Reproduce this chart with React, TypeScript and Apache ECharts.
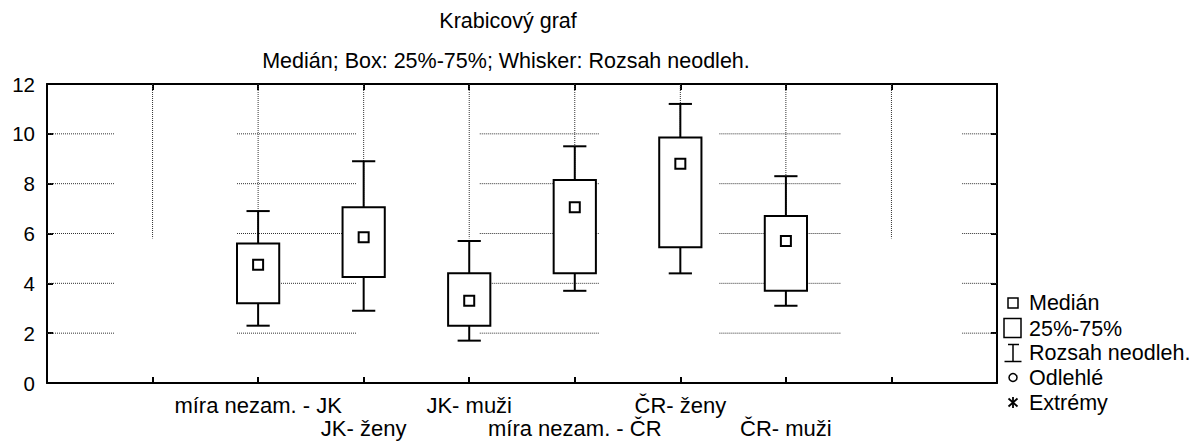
import React, { useEffect, useRef } from 'react';
import * as echarts from 'echarts';

const TITLE = 'Krabicový graf';
const SUBTITLE = 'Medián; Box: 25%-75%; Whisker: Rozsah neodleh.';

const CATEGORIES = ['míra nezam. - JK', 'JK- ženy', 'JK- muži', 'míra nezam. - ČR', 'ČR- ženy', 'ČR- muži'];
const WHISKER_LOW = [2.3, 2.9, 1.7, 3.7, 4.4, 3.1];
const Q1 = [3.2, 4.25, 2.3, 4.4, 5.45, 3.7];
const MEDIAN = [4.75, 5.85, 3.3, 7.05, 8.8, 5.7];
const Q3 = [5.6, 7.05, 4.4, 8.15, 9.85, 6.7];
const WHISKER_HIGH = [6.9, 8.9, 5.7, 9.5, 11.2, 8.3];

const LEGEND_LABELS = ['Medián', '25%-75%', 'Rozsah neodleh.', 'Odlehlé', 'Extrémy'];

const Y_MIN = 0;
const Y_MAX = 12;
const Y_STEP = 2;
const X_MIN = 0;
const X_MAX = 9;
const FIRST_CATEGORY_X = 2;

// Statistica-style broken grid pattern
const H_GRID_VALUES = [2, 4, 6, 8, 10];
const H_GRID_SEGMENTS = [[0, 0.644], [1.8, 2.935], [4.1, 5.235], [6.37, 7.517], [8.67, 9]];
const V_GRID_VALUES = [1, 2, 3, 4, 5, 6, 7, 8];
const V_GRID_BOTTOM = 5.8;

const FONT = '"Liberation Sans", Arial, Helvetica, sans-serif';

function buildOption() {
  const gridSegments: number[][] = [];
  H_GRID_VALUES.forEach((y) => {
    H_GRID_SEGMENTS.forEach(([a, b]) => gridSegments.push([a, y, b, y]));
  });
  V_GRID_VALUES.forEach((x) => gridSegments.push([x, Y_MAX, x, V_GRID_BOTTOM]));

  const boxData = CATEGORIES.map((_, i) => [
    i + FIRST_CATEGORY_X,
    WHISKER_LOW[i],
    Q1[i],
    MEDIAN[i],
    Q3[i],
    WHISKER_HIGH[i],
  ]);

  const axisLine = { onZero: false, lineStyle: { color: '#000', width: 2 } };
  const axisTick = { inside: true, length: 6, lineStyle: { color: '#000', width: 2 } };

  const black = '#000';
  const legendX = 1013;
  const legendTextX = 1029;
  const rowY = [303, 328.5, 352.5, 377.5, 402.5];

  const legendGraphics: any[] = [
    {
      type: 'rect',
      shape: { x: legendX - 5, y: rowY[0] - 5, width: 10, height: 10 },
      style: { fill: '#fff', stroke: black, lineWidth: 1.5 },
    },
    {
      type: 'rect',
      shape: { x: legendX - 9, y: rowY[1] - 10, width: 17, height: 19 },
      style: { fill: '#fff', stroke: black, lineWidth: 1.5 },
    },
    {
      type: 'line',
      shape: { x1: legendX - 5, y1: rowY[2] - 8, x2: legendX + 6, y2: rowY[2] - 8 },
      style: { stroke: black, lineWidth: 1.5 },
    },
    {
      type: 'line',
      shape: { x1: legendX, y1: rowY[2] - 8, x2: legendX, y2: rowY[2] + 9 },
      style: { stroke: black, lineWidth: 1.5 },
    },
    {
      type: 'line',
      shape: { x1: legendX - 8.5, y1: rowY[2] + 9, x2: legendX + 8.5, y2: rowY[2] + 9 },
      style: { stroke: black, lineWidth: 1.5 },
    },
    {
      type: 'circle',
      shape: { cx: legendX, cy: rowY[3], r: 4 },
      style: { fill: '#fff', stroke: black, lineWidth: 1.5 },
    },
    {
      type: 'line',
      shape: { x1: legendX, y1: rowY[4] - 5.5, x2: legendX, y2: rowY[4] + 5.5 },
      style: { stroke: black, lineWidth: 1.8 },
    },
    {
      type: 'line',
      shape: { x1: legendX - 4.5, y1: rowY[4] - 4, x2: legendX + 4.5, y2: rowY[4] + 4 },
      style: { stroke: black, lineWidth: 1.8 },
    },
    {
      type: 'line',
      shape: { x1: legendX - 4.5, y1: rowY[4] + 4, x2: legendX + 4.5, y2: rowY[4] - 4 },
      style: { stroke: black, lineWidth: 1.8 },
    },
  ];
  LEGEND_LABELS.forEach((label, i) => {
    legendGraphics.push({
      type: 'text',
      x: legendTextX,
      y: rowY[i],
      style: {
        text: label,
        fontSize: 21.5,
        fontFamily: FONT,
        fill: black,
        align: 'left',
        verticalAlign: 'middle',
      },
    });
  });

  return {
    animation: false,
    backgroundColor: '#ffffff',
    textStyle: { fontFamily: FONT },
    title: [
      {
        text: TITLE,
        left: 508,
        top: 10,
        textAlign: 'center',
        padding: 0,
        textStyle: { fontSize: 21.5, fontWeight: 'normal', color: black, fontFamily: FONT, lineHeight: 22 },
      },
      {
        text: SUBTITLE,
        left: 506,
        top: 50,
        textAlign: 'center',
        padding: 0,
        textStyle: { fontSize: 21.5, fontWeight: 'normal', color: black, fontFamily: FONT, lineHeight: 22 },
      },
    ],
    grid: { left: 47, right: 196, top: 84, bottom: 58 },
    xAxis: [
      {
        type: 'value',
        min: X_MIN,
        max: X_MAX,
        interval: 1,
        position: 'bottom',
        axisLine,
        axisTick,
        splitLine: { show: false },
        axisLabel: {
          fontSize: 22,
          fontFamily: FONT,
          color: black,
          margin: 11,
          lineHeight: 23,
          formatter: (v: number) => {
            const i = Math.round(v) - FIRST_CATEGORY_X;
            if (i < 0 || i >= CATEGORIES.length) return '';
            return i % 2 === 0 ? CATEGORIES[i] : '\n' + CATEGORIES[i];
          },
        },
      },
      {
        type: 'value',
        min: X_MIN,
        max: X_MAX,
        interval: 1,
        position: 'top',
        axisLine,
        axisTick,
        splitLine: { show: false },
        axisLabel: { show: false },
      },
    ],
    yAxis: [
      {
        type: 'value',
        min: Y_MIN,
        max: Y_MAX,
        interval: Y_STEP,
        position: 'left',
        axisLine,
        axisTick,
        splitLine: { show: false },
        axisLabel: { fontSize: 20.5, fontFamily: FONT, color: black, margin: 12 },
      },
      {
        type: 'value',
        min: Y_MIN,
        max: Y_MAX,
        interval: Y_STEP,
        position: 'right',
        axisLine,
        axisTick,
        splitLine: { show: false },
        axisLabel: { show: false },
      },
    ],
    series: [
      {
        type: 'custom',
        name: 'grid',
        xAxisIndex: 0,
        yAxisIndex: 0,
        silent: true,
        z: 1,
        data: gridSegments,
        encode: { x: [0, 2], y: [1, 3] },
        renderItem: (_params: any, api: any) => {
          const a = api.coord([api.value(0), api.value(1)]);
          const b = api.coord([api.value(2), api.value(3)]);
          return {
            type: 'line',
            shape: { x1: a[0], y1: a[1], x2: b[0], y2: b[1] },
            style: { stroke: '#333', lineWidth: 1, lineDash: [1, 1] },
          };
        },
      },
      {
        type: 'custom',
        name: 'boxes',
        xAxisIndex: 0,
        yAxisIndex: 0,
        z: 3,
        data: boxData,
        encode: { x: 0, y: [1, 2, 3, 4, 5] },
        renderItem: (_params: any, api: any) => {
          const x = api.value(0);
          const pLow = api.coord([x, api.value(1)]);
          const pQ1 = api.coord([x, api.value(2)]);
          const pMed = api.coord([x, api.value(3)]);
          const pQ3 = api.coord([x, api.value(4)]);
          const pHigh = api.coord([x, api.value(5)]);
          const unit = api.size([1, 0])[0];
          const bw = unit * 0.4;
          const cw = unit * 0.22;
          const cx = pMed[0];
          const s = { stroke: '#000', lineWidth: 2 };
          return {
            type: 'group',
            children: [
              { type: 'line', shape: { x1: cx, y1: pLow[1], x2: cx, y2: pQ1[1] }, style: s },
              { type: 'line', shape: { x1: cx, y1: pQ3[1], x2: cx, y2: pHigh[1] }, style: s },
              { type: 'line', shape: { x1: cx - cw / 2, y1: pLow[1], x2: cx + cw / 2, y2: pLow[1] }, style: s },
              { type: 'line', shape: { x1: cx - cw / 2, y1: pHigh[1], x2: cx + cw / 2, y2: pHigh[1] }, style: s },
              {
                type: 'rect',
                shape: { x: cx - bw / 2, y: pQ3[1], width: bw, height: pQ1[1] - pQ3[1] },
                style: { fill: '#fff', stroke: '#000', lineWidth: 2 },
              },
              {
                type: 'rect',
                shape: { x: cx - 5, y: pMed[1] - 5, width: 10, height: 10 },
                style: { fill: '#fff', stroke: '#000', lineWidth: 2 },
              },
            ],
          };
        },
      },
    ],
    graphic: legendGraphics,
  };
}

export default function App() {
  const ref = useRef<HTMLDivElement>(null);
  useEffect(() => {
    document.body.style.margin = '0';
    const chart = echarts.init(ref.current as HTMLDivElement, null, { renderer: 'svg' });
    chart.setOption(buildOption() as any);
    return () => chart.dispose();
  }, []);
  return (
    <div
      ref={ref}
      style={{ position: 'absolute', left: 0, top: 0, width: 1193, height: 441, background: '#fff' }}
    />
  );
}
